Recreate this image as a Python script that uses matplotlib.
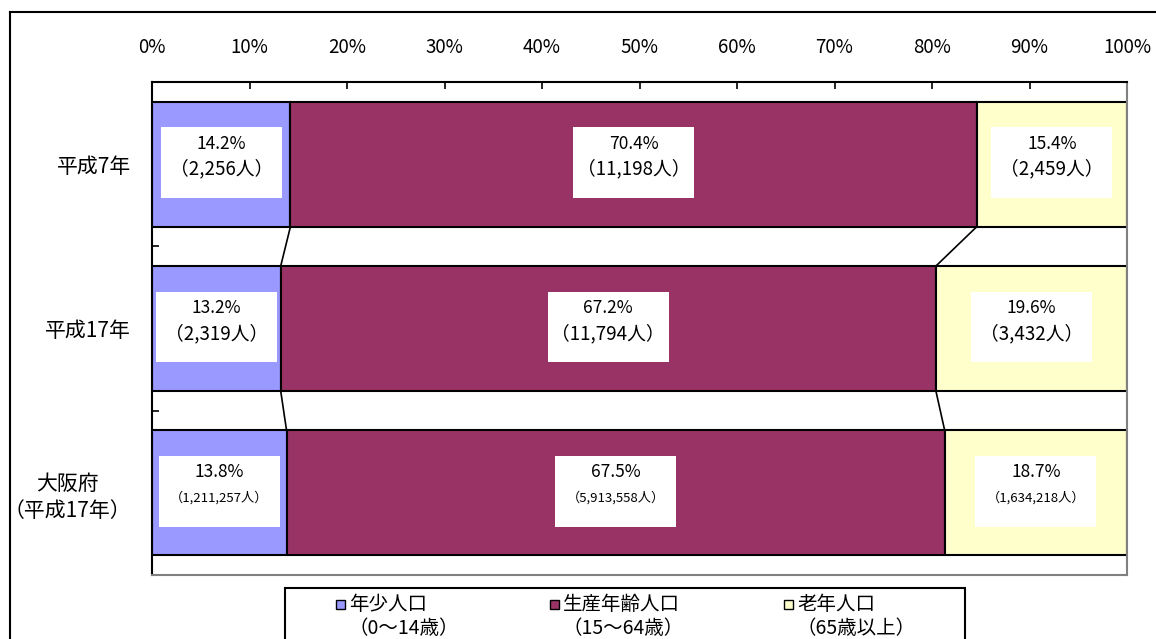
"""
Population share by age group (Osaka comparison), horizontal 100% stacked bars
"""

import matplotlib
matplotlib.use('Agg')
import matplotlib.pyplot as plt
from matplotlib.patches import Rectangle
from matplotlib.lines import Line2D
import numpy

plt.rcParams['font.family'] = ['Noto Sans CJK JP', 'DejaVu Sans']

# Data
rows = ['平成7年', '平成17年', '大阪府\n（平成17年）']
groups = ['年少人口', '生産年齢人口', '老年人口']
group_ranges = ['（0～14歳）', '（15～64歳）', '（65歳以上）']
share_young = [14.2, 13.2, 13.8]
share_working = [70.4, 67.2, 67.5]
share_old = [15.4, 19.6, 18.7]
count_young = ['2,256', '2,319', '1,211,257']
count_working = ['11,198', '11,794', '5,913,558']
count_old = ['2,459', '3,432', '1,634,218']
xticks = [0, 10, 20, 30, 40, 50, 60, 70, 80, 90, 100]

colors = ['#9999FF', '#993366', '#FFFFCC']
shares = numpy.array([share_young, share_working, share_old])
counts = [count_young, count_working, count_old]

# Figure
fig = plt.figure(figsize=(11.56, 6.39), dpi=100)
ax = fig.add_axes([152 / 1156, 1 - 575 / 639, 975 / 1156, 493 / 639])

ypos = numpy.arange(len(rows))
bar_h = 0.76
left = numpy.zeros(len(rows))
for g in range(len(groups)):
    ax.barh(ypos, shares[g], left=left, height=bar_h, color=colors[g],
            edgecolor='black', linewidth=1.5, zorder=2)
    left = left + shares[g]

# Series lines between the bars
cum = numpy.cumsum(shares, axis=0)
for r in range(len(rows) - 1):
    for g in range(len(groups) - 1):
        ax.plot([cum[g, r], cum[g, r + 1]],
                [ypos[r] + bar_h / 2, ypos[r + 1] - bar_h / 2],
                color='black', linewidth=1.2, zorder=1)

# Data labels in white boxes
box_w = 12.4
box_h = 0.43
starts = numpy.vstack([numpy.zeros(len(rows)), cum[:-1]])
for g in range(len(groups)):
    for r in range(len(rows)):
        xc = starts[g, r] + shares[g, r] / 2
        yc = ypos[r] - 0.01
        ax.add_patch(Rectangle((xc - box_w / 2, yc - box_h / 2), box_w, box_h,
                               facecolor='white', edgecolor='none', zorder=3))
        small = len(counts[g][r]) > 6
        ax.text(xc, yc - 0.115, f'{shares[g, r]:.1f}%', ha='center', va='center',
                fontsize=12.5, zorder=4)
        ax.text(xc, yc + 0.04, f'（{counts[g][r]}人）', ha='center', va='center',
                fontsize=9.5 if small else 13.5, zorder=4)

# Axes
ax.set_xlim(0, 100)
ax.set_ylim(2.5, -0.5)
ax.xaxis.tick_top()
ax.set_xticks(xticks)
ax.set_xticklabels([f'{t}%' for t in xticks], fontsize=13.5)
ax.tick_params(axis='x', direction='in', length=5, width=1.2, pad=17)
ax.set_yticks(ypos)
ax.set_yticklabels(rows, fontsize=15, linespacing=1.25, multialignment='center')
ax.tick_params(axis='y', which='major', length=0, pad=15)
ax.set_yticks([0.5, 1.5], minor=True)
ax.tick_params(axis='y', which='minor', direction='in', length=5, width=1.2)
for side in ['top', 'left']:
    ax.spines[side].set_color('black')
    ax.spines[side].set_linewidth(1.5)
for side in ['right', 'bottom']:
    ax.spines[side].set_color('#808080')
    ax.spines[side].set_linewidth(1.5)

# Outer chart frame
W, H = 1156, 639
fig.add_artist(Line2D([10 / W, 1], [1 - 12 / H, 1 - 12 / H], color='black', linewidth=1.5))
fig.add_artist(Line2D([10 / W, 10 / W], [0, 1 - 12 / H], color='black', linewidth=1.5))

# Legend
fig.add_artist(Rectangle((285 / W, -0.05), 680 / W, 0.05 + (639 - 588) / H,
                         transform=fig.transFigure, facecolor='white',
                         edgecolor='black', linewidth=1.5))
legend_x = [340, 554, 788]
for g in range(len(groups)):
    x0 = legend_x[g]
    fig.add_artist(Rectangle(((x0 - 4.5) / W, 1 - 609 / H), 9 / W, 9 / H,
                             transform=fig.transFigure, facecolor=colors[g],
                             edgecolor='black', linewidth=1))
    fig.text((x0 + 9) / W, 1 - 604 / H, groups[g], ha='left', va='center', fontsize=14)
    fig.text((x0 + 9) / W, 1 - 628 / H, group_ranges[g], ha='left', va='center', fontsize=14)

fig.savefig('out.png', dpi=100)
